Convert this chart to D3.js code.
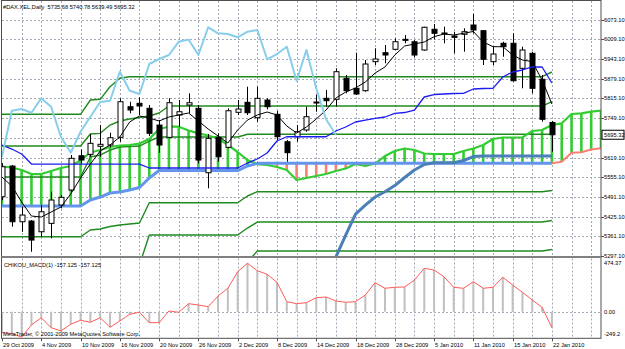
<!DOCTYPE html>
<html><head><meta charset="utf-8">
<script src="https://cdn.jsdelivr.net/npm/d3@7"></script>
<style>body{margin:0;background:#fff}svg{display:block}text{font-family:"Liberation Sans",Arial,sans-serif;font-size:5.7px;fill:#000}</style>
</head><body><svg id="c" width="625" height="349"></svg>
<script>
// ---------- DATA ----------
const dateLabels = ["29 Oct 2009","4 Nov 2009","10 Nov 2009","16 Nov 2009","20 Nov 2009","26 Nov 2009","2 Dec 2009","8 Dec 2009","14 Dec 2009","18 Dec 2009","28 Dec 2009","5 Jan 2010","11 Jan 2010","15 Jan 2010","22 Jan 2010"];
const labelBars = [0,4,8,12,16,20,24,28,32,36,40,44,48,52,56];
const priceTicks = [6073.10,6009.10,5943.10,5879.10,5815.10,5749.10,5685.10,5619.10,5555.10,5491.10,5425.10,5361.10,5297.10];
const subTicks = [474.37,0.00,-249.2];
const subTickLabels = ["474.37","0.00","-249.2"];

const open  = [5491.2,5592.3,5408.9,5411.2,5376.0,5403.6,5463.9,5513.3,5626.2,5630.8,5657.2,5661.5,5686.8,5787.6,5798.8,5782.3,5727.3,5686.8,5760.3,5793.2,5782.3,5570.3,5686.8,5653.9,5769.2,5802.1,5751.4,5809.7,5762.6,5672.3,5688.8,5710.9,5800.8,5815.3,5812.0,5881.1,5848.2,5840.3,5935.8,5965.4,5976.6,6009.5,6001.6,5974.3,6042.5,6030.3,6020.4,6026.0,6056.6,6037.9,5935.8,5996.4,5996.4,5914.1,5963.4,5877.8,5735.68];
const high  = [5602,5595.6,5458.3,5414.5,5463.9,5507.7,5496.8,5628.5,5647.3,5697.7,5727.3,5702.0,5815.3,5804.1,5818.6,5793.2,5743.8,5815.3,5809.7,5831.7,5793.2,5697.7,5700.0,5782.3,5809.7,5853.5,5853.5,5815.3,5773.4,5677.9,5727.3,5787.6,5826.1,5842.6,5914.1,5892.0,5965.4,5941.4,5979.9,5990.8,6012.8,6023.7,6007.2,6051.0,6059.9,6051.0,6034.6,6045.8,6092.9,6040.2,5985.2,6001.6,6029.3,5985.2,5968.7,5892.0,5740.78];
const low   = [5480,5392.4,5376.0,5310.1,5359.5,5354.2,5453.0,5507.7,5601.2,5622.9,5622.9,5653.9,5672.3,5765.9,5760.3,5691.1,5636.1,5683.5,5721.7,5765.9,5601.2,5518.9,5606.5,5650.6,5760.3,5760.3,5738.2,5779.0,5677.9,5606.5,5672.3,5705.3,5771.1,5787.6,5787.6,5831.7,5826.1,5837.0,5924.9,5930.5,5974.3,5996.4,5950.3,5972.0,6009.5,5996.4,5963.4,5968.7,6029.3,5924.9,5924.9,5952.2,5869.9,5848.2,5831.7,5738.2,5639.49];
const close = [5590.0,5408.9,5431.0,5348.6,5441.8,5480.4,5489.3,5617.7,5612.1,5667.1,5663.8,5685.5,5804.1,5776.7,5789.9,5700.0,5661.5,5800.8,5771.1,5800.8,5612.1,5683.5,5622.9,5774.4,5780.0,5767.8,5815.3,5787.6,5688.8,5636.1,5705.3,5754.7,5803.0,5807.4,5902.9,5840.3,5829.4,5928.2,5944.7,5957.8,6001.6,6008.9,5957.8,6049.1,6029.3,6027.0,6016.1,6034.6,6040.2,5943.7,5961.1,5985.2,5873.2,5974.3,5848.2,5746.1,5695.32];

const tenkan = [5556.1,5526.5,5473.8,5427.7,5424.4,5440.9,5457.3,5500.2,5552.8,5598.9,5641.8,5661.5,5687.9,5737.3,5757.0,5750.4,5740.5,5753.7,5760.3,5766.9,5740.5,5714.2,5691.2,5668.1,5710.9,5743.8,5760.3,5770.2,5760.3,5724.1,5701.0,5720.8,5747.1,5776.7,5816.3,5836.0,5849.2,5869.0,5898.6,5918.4,5957.9,5987.5,5994.1,6000.7,6018.1,6027.0,6023.7,6029.3,6035.3,6000.7,5985.2,5985.2,5957.9,5941.4,5935.8,5875.6,5796.5];
const kijun = [5661.5,5648.3,5631.9,5598.9,5598.9,5598.9,5598.9,5598.9,5598.9,5598.9,5598.9,5598.9,5598.9,5598.9,5598.9,5585.8,5585.8,5585.8,5585.8,5585.8,5585.8,5585.8,5585.8,5585.8,5585.8,5602.2,5615.4,5635.2,5674.7,5688.8,5688.8,5688.8,5688.8,5688.8,5707.6,5720.8,5737.3,5743.8,5749.4,5753.7,5765.9,5768.5,5776.7,5819.6,5827.8,5829.4,5831.1,5831.7,5845.9,5847.5,5848.2,5885.4,5901.9,5908.5,5918.4,5918.4,5865.7];
const chikouShift = 22;
const senkouA = [5590.1,5587.4,5579.2,5566.0,5566.0,5575.9,5585.8,5592.4,5610.5,5636.8,5645.0,5654.9,5659.9,5661.5,5666.5,5681.3,5714.2,5721.8,5721.8,5709.3,5700.0,5692.8,5682.9,5661.5,5638.5,5612.1,5598.9,5595.7,5589.1,5579.2,5546.3,5552.8,5559.4,5566.0,5575.9,5584.1,5598.9,5592.4,5600.6,5625.3,5641.8,5650.0,5645.0,5633.5,5631.9,5631.9,5631.9,5641.8,5650.0,5661.5,5681.3,5686.2,5686.2,5686.9,5707.6,5710.9,5727.4,5733.0,5763.6,5765.9,5771.2,5774.5];
const senkouB = [5460.6,5460.6,5460.6,5460.6,5460.6,5460.6,5460.6,5460.6,5460.6,5480.4,5490.3,5503.5,5506.7,5513.3,5521.6,5552.8,5577.5,5577.5,5577.5,5577.5,5577.5,5577.5,5577.5,5577.5,5577.5,5592.4,5601.2,5601.2,5601.2,5601.2,5601.2,5601.2,5601.2,5601.2,5601.2,5601.2,5601.2,5601.2,5601.2,5601.2,5601.2,5601.2,5601.2,5601.2,5601.2,5601.2,5601.2,5601.2,5601.2,5601.2,5601.2,5601.2,5601.2,5601.2,5601.2,5601.2,5601.2,5606.5,5636.2,5637.5,5646.7,5650.7];
const steelLine = [null,null,null,null,null,null,null,null,null,null,null,null,null,null,null,null,null,null,null,null,null,null,null,null,null,null,null,null,null,null,null,null,null,5216.9,5292.7,5365.1,5434.3,5463.9,5490.3,5507.7,5528.1,5554.5,5579.2,5597.3,5603.2,5603.2,5603.2,5610.5,5623.6,5625.3,5625.3,5625.3,5625.3,5625.3,5625.3,5625.3,5625.3];
// dark green level lines, as [value, number of bars] runs
const levelA  = [[5762.6,9],[5809.7,1],[5812.0,1],[5853.5,1],[5881.2,1],[5886.4,43],[5901.9,1]];
const levelB  = [[5658.2,9],[5697.7,1],[5700.0,1],[5727.3,1],[5740.5,1],[5747.1,1],[5752.1,1],[5757.0,1],[5766.9,1],[5789.9,39],[5804.1,1]];
const levelC  = [[5556.1,9],[5622.0,1],[5628.5,1],[5645.0,1],[5654.9,1],[5656.5,1],[5658.2,1],[5674.7,1],[5687.9,9],[5696.8,32]];
const levelL1 = [[5359.5,9],[5381.6,1],[5384.9,1],[5393.1,1],[5398.0,1],[5401.4,1],[5404.7,1],[5471.5,10],[5493.6,1],[5507.7,30],[5511.7,1]];
const levelL2 = [[5266.4,15],[5365.1,10],[5388.2,1],[5407.9,30],[5412.9,1]];
const levelL3 = [[5276.2,26],[5312.4,30],[5317.4,1]];
const chikouMacd = [-205,-215,-249.2,-130.3,-58.8,-156.8,-189.1,-123.5,-84.3,-103.9,-58.8,-152.9,-91.1,-25.5,-5,-107.8,-107.8,6.9,-5.9,78.4,65.7,49,153.9,229.3,392,474.37,401.8,366.5,288.1,98,78.4,88.2,137.2,144.1,104.9,92.1,98,163.7,284.2,229.3,239.1,242.1,310.7,425.3,408.7,343,239.1,229.3,294,229.3,239.1,337.1,261.7,190.1,114.7,43.1,-157.125];
const titleText = "#DAX.XEL,Daily  5735.68 5740.78 5639.49 5695.32";
const subTitle = "CHIKOU_MACD(1) -157.125 -157.125";
const lastPrice = 5695.32;

// ---------- LAYOUT ----------
const svg = d3.select('#c');
const PL=2, PR=601, PT=1, PB=256.7, ST=258.5, SB=338.3;
const xs = d3.scaleLinear().domain([0,56]).range([2,551.9]);
const ys = d3.scaleLinear().domain([5297.1,6073.1]).range([255.7,20]);
const ys2 = d3.scaleLinear().domain([-249.2,474.37]).range([337.1,263.3]);
const runs = r => r.flatMap(([v,n]) => Array(n).fill(v));
const crisp = v => Math.round(v)+0.5;

const defs = svg.append('defs');
defs.append('clipPath').attr('id','cm').append('rect').attr('x',PL).attr('y',PT).attr('width',PR-PL).attr('height',PB-PT);
defs.append('clipPath').attr('id','cs').append('rect').attr('x',PL).attr('y',ST).attr('width',PR-PL).attr('height',SB-ST);

const grid = svg.append('g').attr('stroke','#a4a9b8').attr('stroke-dasharray','2,2').attr('stroke-width',1);
priceTicks.forEach(t=>{const y=crisp(ys(t)); grid.append('line').attr('x1',PL).attr('x2',PR).attr('y1',y).attr('y2',y);});
for(let b=2;b<=60;b+=2){const x=crisp(xs(b)); if(x>=PR) continue;
  grid.append('line').attr('x1',x).attr('x2',x).attr('y1',PT).attr('y2',PB);
  grid.append('line').attr('x1',x).attr('x2',x).attr('y1',ST).attr('y2',SB);}
grid.append('line').attr('x1',PL).attr('x2',PR).attr('y1',crisp(ys2(0))).attr('y2',crisp(ys2(0)));

const main = svg.append('g').attr('clip-path','url(#cm)');
// cloud hatch
senkouA.forEach((a,i)=>{const b=senkouB[i];
  main.append('line').attr('x1',xs(i)).attr('x2',xs(i)).attr('y1',ys(a)).attr('y2',ys(b))
   .attr('stroke', a>=b ? '#33cc33' : '#fa8072').attr('stroke-width',2.6);});
const path = (data,color,w,from=0)=>main.append('path')
  .attr('d', d3.line().defined(d=>d!=null).x((d,i)=>xs(i+from)).y(d=>ys(d))(data))
  .attr('fill','none').attr('stroke',color).attr('stroke-width',w).attr('stroke-linejoin','round');
// dark green levels
[levelA,levelB,levelC,levelL1,levelL2,levelL3].forEach(l=>path(runs(l),'#1f8a1f',1.4));
// senkou lines
path(senkouA,'#33cc33',2.2);
path(senkouB.slice(0,57),'#6495ed',3);
path(senkouB.slice(56),'#fa8072',2,56);
path(steelLine,'#4a7fb8',3);
// candles
const cg = main.append('g');
close.forEach((c,i)=>{const o=open[i], x=crisp(xs(i));
  cg.append('line').attr('x1',x).attr('x2',x).attr('y1',ys(high[i])).attr('y2',ys(low[i])).attr('stroke','#000').attr('stroke-width',1);
  const top=ys(Math.max(o,c)), bot=ys(Math.min(o,c));
  cg.append('rect').attr('x',x-2.5).attr('y',top).attr('width',5).attr('height',Math.max(1,bot-top))
    .attr('fill', c>=o ? '#fff' : '#000').attr('stroke','#000').attr('stroke-width',1);});
path(kijun,'#1c1cf0',1.3);
path(tenkan,'#000',1);
path(close.slice(chikouShift),'#87ceeb',2);

// sub window
const sub = svg.append('g').attr('clip-path','url(#cs)');
chikouMacd.forEach((v,i)=>{sub.append('line').attr('x1',xs(i)).attr('x2',xs(i)).attr('y1',ys2(0)).attr('y2',ys2(v)).attr('stroke','#c0c0c0').attr('stroke-width',2);});
sub.append('path').attr('d',d3.line().x((d,i)=>xs(i)).y(d=>ys2(d))(chikouMacd)).attr('fill','none').attr('stroke','#ff5a5a').attr('stroke-width',1);

// frames
const fr = svg.append('g').attr('fill','none').attr('stroke','#505050').attr('stroke-width',1);
fr.append('rect').attr('x',1.5).attr('y',0.5).attr('width',PR-1.5).attr('height',SB-0.5);
fr.append('line').attr('x1',1.5).attr('x2',PR).attr('y1',257).attr('y2',257).attr('stroke','#808080').attr('stroke-width',2);

// axis labels
const ax = svg.append('g');
const by = ys(lastPrice);
priceTicks.forEach(t=>{const y=ys(t);
  ax.append('line').attr('x1',PR).attr('x2',PR+3).attr('y1',crisp(y)).attr('y2',crisp(y)).attr('stroke','#505050');
  if(Math.abs(y-by)>8) ax.append('text').attr('x',604).attr('y',y+2).text(t.toFixed(2));});
ax.append('rect').attr('x',602).attr('y',by-4.5).attr('width',22).attr('height',9).attr('fill','#fff').attr('stroke','#000');
ax.append('text').attr('x',604).attr('y',by+2).text(lastPrice.toFixed(2));
subTicks.forEach((t,i)=>{const y=Math.min(334.3,ys2(t));
  ax.append('text').attr('x',604).attr('y',y+2).text(subTickLabels[i]);});
labelBars.forEach((b,i)=>{const x=crisp(xs(b));
  ax.append('line').attr('x1',x).attr('x2',x).attr('y1',SB).attr('y2',SB+3).attr('stroke','#505050');
  ax.append('text').attr('x',x+0.5).attr('y',346.5).text(dateLabels[i]);});
svg.append('text').attr('x',3).attr('y',8.5).text(titleText).style('white-space','pre');
svg.append('text').attr('x',4).attr('y',267).text(subTitle);
svg.append('text').attr('x',3).attr('y',336).text("MetaTrader, \u00a9 2001-2009 MetaQuotes Software Corp.");
</script></body></html>
